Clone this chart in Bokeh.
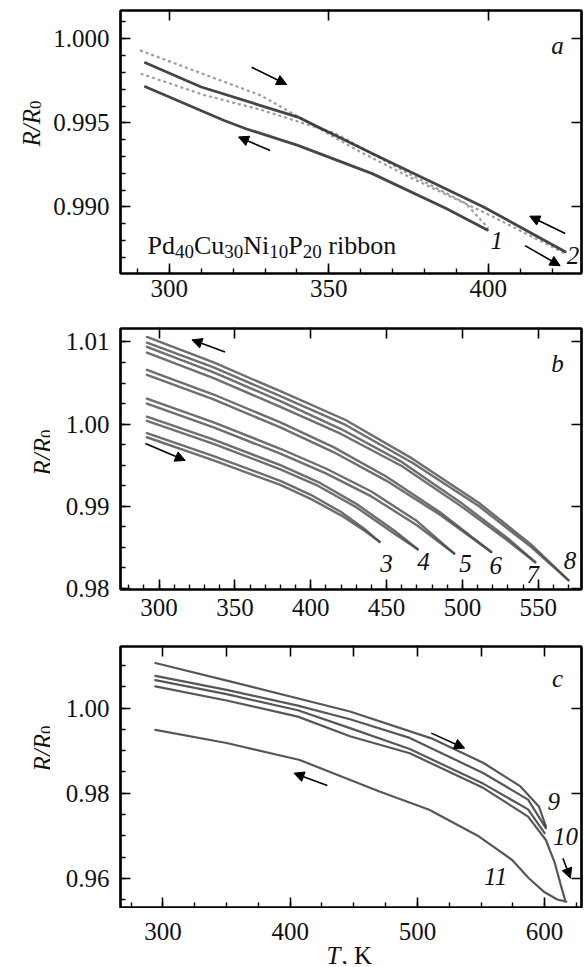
from bokeh.plotting import figure
from bokeh.layouts import column, row
from bokeh.models import (Range1d, LinearAxis, SingleIntervalTicker, FixedTicker, Label,
                          Arrow, NormalHead, NumeralTickFormatter, CustomJSTickFormatter)
from bokeh.embed import file_html
from bokeh.resources import INLINE

# ---------------- data ----------------
# panel a: Pd40Cu30Ni10P20 ribbon, runs 1 and 2
a1_heat_T = [291, 300, 311, 329, 352, 375, 393, 400]
a1_heat_R = [0.99792, 0.99735, 0.99665, 0.99576, 0.99437, 0.99198, 0.99020, 0.98872]
a1_cool_T = [292.5, 317, 324, 340.3, 363.6, 386.8, 399.7]
a1_cool_R = [0.99715, 0.99515, 0.99465, 0.99366, 0.99198, 0.98990, 0.98862]
a2_heat_T = [290.8, 310, 328.7, 358.9, 375.2, 400, 424.1]
a2_heat_R = [0.99931, 0.99795, 0.99663, 0.99337, 0.99178, 0.98955, 0.98723]
a2_cool_T = [292.5, 310, 340.3, 363.6, 398.5, 424.1]
a2_cool_R = [0.99857, 0.99713, 0.99534, 0.99317, 0.99000, 0.98733]

# panel b: runs 3..8
b8_cool_T = [292, 336, 380, 423, 467, 511, 545, 570]
b8_cool_R = [1.0106, 1.0075, 1.0040, 1.0005, 0.9958, 0.9904, 0.9854, 0.9810]
b8_heat_T = [292, 336, 380, 423, 467, 511, 545, 570]
b8_heat_R = [1.0099, 1.0069, 1.0034, 0.9999, 0.9953, 0.9900, 0.9851, 0.9810]
b7_cool_T = [292, 336, 380, 420, 460, 500, 530, 548]
b7_cool_R = [1.0094, 1.0063, 1.0028, 0.9994, 0.9954, 0.9903, 0.9861, 0.9832]
b7_heat_T = [292, 336, 380, 420, 460, 500, 530, 548]
b7_heat_R = [1.0087, 1.0056, 1.0021, 0.9988, 0.9949, 0.9899, 0.9858, 0.9832]
b6_cool_T = [292, 336, 380, 415, 450, 485, 519]
b6_cool_R = [1.0066, 1.0036, 1.0002, 0.9972, 0.9936, 0.9893, 0.98445]
b6_heat_T = [292, 336, 380, 415, 450, 485, 519]
b6_heat_R = [1.0060, 1.0030, 0.9996, 0.9966, 0.9931, 0.9890, 0.98445]
b5_cool_T = [292, 336, 380, 410, 440, 470, 494.6]
b5_cool_R = [1.0031, 1.0002, 0.9970, 0.9946, 0.9918, 0.9882, 0.98425]
b5_heat_T = [292, 336, 380, 410, 440, 470, 494.6]
b5_heat_R = [1.0025, 0.9996, 0.9964, 0.9940, 0.9912, 0.9877, 0.98425]
b4_cool_T = [292, 336, 380, 405, 430, 455, 470.5]
b4_cool_R = [1.0009, 0.9981, 0.9950, 0.99295, 0.9903, 0.98705, 0.98478]
b4_heat_T = [292, 336, 380, 405, 430, 455, 470.5]
b4_heat_R = [1.0004, 0.9976, 0.9945, 0.99248, 0.98988, 0.98670, 0.98478]
b3_cool_T = [292, 336, 380, 400, 420, 435, 445.4]
b3_cool_R = [0.9989, 0.9961, 0.9931, 0.9914, 0.9893, 0.9873, 0.98567]
b3_heat_T = [292, 336, 380, 400, 420, 435, 445.4]
b3_heat_R = [0.9984, 0.9956, 0.9926, 0.9909, 0.9889, 0.9871, 0.98567]

# panel c: runs 9..11
c9_heat_T = [294, 355, 447, 511, 552, 581, 595.5, 601]
c9_heat_R = [1.0106, 1.0061, 0.9992, 0.9929, 0.9871, 0.9816, 0.9769, 0.9722]
c9_cool_T = [294, 350, 406, 447, 494, 552, 587, 601]
c9_cool_R = [1.0076, 1.0043, 1.0006, 0.9974, 0.9930, 0.9847, 0.9785, 0.9718]
c10_heat_T = [294, 350, 406, 447, 494, 552, 587, 600]
c10_heat_R = [1.0066, 1.0033, 0.9995, 0.9953, 0.9904, 0.9822, 0.9762, 0.9706]
c10_cool_T = [294, 350, 406, 447, 494, 552, 587, 601, 608, 613, 616]
c10_cool_R = [1.0051, 1.0018, 0.9980, 0.9934, 0.9894, 0.9812, 0.9745, 0.9690, 0.9636, 0.9581, 0.9550]
c11_cool_T = [617, 610, 600, 587.6, 574.5, 548.5, 509.3, 470.2, 407.5, 350, 294]
c11_cool_R = [0.9545, 0.9550, 0.9567, 0.9600, 0.9643, 0.9698, 0.9761, 0.9804, 0.9878, 0.9918, 0.9949]

# tick labels of panel c's T axis
c_xticks = [300, 400, 500, 600]
# major ticks repeated on the top and right frame sides
a_top = [300, 350, 400]
a_right = [0.990, 0.995, 1.000]
b_top = [300, 350, 400, 450, 500, 550]
b_right = [0.98, 0.99, 1.00, 1.01]
c_top = [300, 350, 400, 450, 500, 550, 600]
c_right = [0.96, 0.98, 1.00]

# curve numbers (T, R/R0, text)
a_num = [(402.6, 0.98802, "1"), (426.5, 0.98713, "2")]
b_num = [(449.9, 0.98300, "3"), (474.4, 0.98330, "4"), (502.0, 0.98300, "5"),
         (522.0, 0.98280, "6"), (546.4, 0.98170, "7"), (571.0, 0.98335, "8")]
c_num = [(607.2, 0.97802, "9"), (616.5, 0.96979, "10"), (561.5, 0.96038, "11")]

# arrows (T_start, R_start, T_end, R_end)
a_arrows = [(325.8, 0.99831, 336.8, 0.99728), (331.6, 0.99336, 321.7, 0.99416),
            (424.1, 0.98842, 413.0, 0.98945), (411.5, 0.98770, 422.5, 0.98650)]
b_arrows = [(343.5, 1.00878, 321.7, 1.01025), (291.0, 0.99764, 317.3, 0.99558)]
c_arrows = [(510.9, 0.99412, 537.1, 0.99059), (429.2, 0.98179, 403.0, 0.98471),
            (614.4, 0.96471, 620.3, 0.96000)]

FONT = "Liberation Serif"
FW = 461
LEFT_W = 50          # strip that carries the R/R0 labels
MAIN_LEFT = 70       # axis panel of each plot
MAIN_RIGHT = 3
FRAME_LW = 2.2
COL_H = 908          # stacked plots: 313 + 316 + 279
STRIP_H = 56         # strip below panel c (tick labels and T, K)
BLANK = "return ''"


def side_axis(ticks):
    ax = LinearAxis(ticker=FixedTicker(ticks=ticks, minor_ticks=[]),
                    formatter=CustomJSTickFormatter(code=BLANK))
    ax.axis_line_color = "black"
    ax.axis_line_width = FRAME_LW
    ax.major_tick_in = 10
    ax.major_tick_out = 1
    ax.major_tick_line_width = 1.6
    ax.major_tick_line_color = "black"
    ax.minor_tick_line_color = None
    ax.major_label_text_font_size = "0px"
    ax.major_label_standoff = 0
    return ax


def make_fig(xr, yr, fh, btop, bbot, xmaj, xmin_n, ymaj, ymin_n, yfmt, top_ticks,
             right_ticks, xstand=6, xlabels=True):
    p = figure(output_backend="svg", toolbar_location=None,
               frame_width=FW, frame_height=fh,
               x_range=Range1d(*xr), y_range=Range1d(*yr),
               min_border_left=MAIN_LEFT, min_border_right=MAIN_RIGHT,
               min_border_top=btop, min_border_bottom=bbot,
               background_fill_color="white", border_fill_color="white")
    p.grid.visible = False
    p.outline_line_color = "black"
    p.outline_line_width = FRAME_LW
    p.outline_line_alpha = 1.0
    xa = p.xaxis[0]
    ya = p.yaxis[0]
    xa.ticker = SingleIntervalTicker(interval=xmaj, num_minor_ticks=xmin_n)
    ya.ticker = SingleIntervalTicker(interval=ymaj, num_minor_ticks=ymin_n)
    ya.formatter = NumeralTickFormatter(format=yfmt)
    for ax in (xa, ya):
        ax.axis_line_color = "black"
        ax.axis_line_width = FRAME_LW
        ax.major_tick_in = 10
        ax.major_tick_out = 0
        ax.minor_tick_in = 5
        ax.minor_tick_out = 0
        ax.major_tick_line_width = 1.6
        ax.minor_tick_line_width = 1.4
        ax.major_tick_line_color = "black"
        ax.minor_tick_line_color = "black"
        ax.major_label_text_font = FONT
        ax.major_label_text_font_size = "25px"
        ax.major_label_text_color = "#111111"
    xa.major_label_standoff = xstand
    ya.major_label_standoff = 11
    if not xlabels:
        xa.formatter = CustomJSTickFormatter(code=BLANK)
        xa.major_label_text_font_size = "0px"
        xa.major_label_standoff = 0
    p.add_layout(side_axis(top_ticks), "above")
    p.add_layout(side_axis(right_ticks), "right")
    return p


def blank_fig(w, h, xr=None, left=0, right=0):
    p = figure(output_backend="svg", toolbar_location=None,
               frame_width=w - left - right, frame_height=h,
               x_range=xr if xr is not None else Range1d(0, w), y_range=Range1d(0, h),
               min_border=0, min_border_left=left, min_border_right=right,
               x_axis_location=None, y_axis_location=None,
               background_fill_color="white", border_fill_color="white")
    p.grid.visible = False
    p.outline_line_color = None
    return p


def txt(p, x, y, s, size=25, style="normal", units="screen", align="left",
        baseline="alphabetic", angle=0, xu=None):
    p.add_layout(Label(x=x, y=y, x_units=xu or units, y_units=units, text=s,
                       text_font=FONT, text_font_size=f"{size}px",
                       text_font_style=style, text_align=align,
                       text_baseline=baseline, angle=angle, angle_units="deg",
                       text_color="#111111"))


def ylabel(p, x, yc):
    txt(p, x, yc - 23, "R/R", 25, "italic", units="data", angle=90)
    txt(p, x + 4, yc + 14.5, "0", 17, units="data", angle=90)


def curve(p, T, R, color="#3a3a3a", w=2.4, alpha=0.85, dash="solid"):
    cap = "butt" if dash != "solid" else "round"
    p.line(T, R, line_color=color, line_width=w, line_alpha=alpha, line_dash=dash,
           line_join="round", line_cap=cap)


def arrows(p, lst):
    for xs, ys, xe, ye in lst:
        p.add_layout(Arrow(end=NormalHead(size=10, fill_color="black", line_color="black",
                                          line_width=1),
                           x_start=xs, y_start=ys, x_end=xe, y_end=ye,
                           line_color="black", line_width=1.6))


def numbers(p, lst):
    for x, y, s in lst:
        txt(p, x, y, s, 25, "italic", units="data", align="center", baseline="middle")


# ---------------- panel a ----------------
pa = make_fig((284.7, 429.2), (0.98604, 1.00168), 263, 10, 40,
              50, 5, 0.005, 5, "0.000", a_top, a_right)
curve(pa, a2_heat_T, a2_heat_R, color="#8c8c8c", w=2.2, alpha=0.85, dash="3 3")
curve(pa, a1_heat_T, a1_heat_R, color="#8c8c8c", w=2.2, alpha=0.85, dash="3 3")
curve(pa, a2_cool_T, a2_cool_R, color="#262626", w=2.8, alpha=0.85)
curve(pa, a1_cool_T, a1_cool_R, color="#262626", w=2.8, alpha=0.85)
arrows(pa, a_arrows)
numbers(pa, a_num)
txt(pa, 437, 228.5, "a", 25, "italic", align="center")
# composition label with subscripts
pieces = [("Pd", 0), ("40", 1), ("Cu", 0), ("30", 1), ("Ni", 0), ("10", 1),
          ("P", 0), ("20", 1), ("ribbon", 0)]
em = {"P": 0.556, "d": 0.5, "C": 0.667, "u": 0.5, "N": 0.722, "i": 0.278,
      "r": 0.333, "b": 0.5, "o": 0.5, "n": 0.5}
xcur = 27.0
for s, sub in pieces:
    if s == "ribbon":
        xcur += 0.25 * 26
    if sub:
        txt(pa, xcur, 22, s, 19)
        xcur += len(s) * 0.5 * 19
    else:
        txt(pa, xcur, 28, s, 26)
        xcur += sum(em[c] for c in s) * 26

# ---------------- panel b ----------------
pb = make_fig((274.6, 578.5), (0.97988, 1.01163), 261, 15, 40,
              50, 5, 0.01, 4, "0.00", b_top, b_right, xstand=9)
for T, R in [(b8_cool_T, b8_cool_R), (b8_heat_T, b8_heat_R),
             (b7_cool_T, b7_cool_R), (b7_heat_T, b7_heat_R),
             (b6_cool_T, b6_cool_R), (b6_heat_T, b6_heat_R),
             (b5_cool_T, b5_cool_R), (b5_heat_T, b5_heat_R),
             (b4_cool_T, b4_cool_R), (b4_heat_T, b4_heat_R),
             (b3_cool_T, b3_cool_R), (b3_heat_T, b3_heat_R)]:
    curve(pb, T, R, color="#4a4a4a", w=2.4, alpha=0.8)
arrows(pb, b_arrows)
numbers(pb, b_num)
txt(pb, 437, 225.8, "b", 25, "italic", align="center")

# ---------------- panel c ----------------
pc = make_fig((266.6, 629.0), (0.95313, 1.01449), 261, 17, 1,
              100, 4, 0.02, 4, "0.00", c_top, c_right, xlabels=False)
for T, R in [(c9_heat_T, c9_heat_R), (c9_cool_T, c9_cool_R),
             (c10_heat_T, c10_heat_R), (c10_cool_T, c10_cool_R),
             (c11_cool_T, c11_cool_R)]:
    curve(pc, T, R, color="#3a3a3a", w=2.2, alpha=0.85)
arrows(pc, c_arrows)
numbers(pc, c_num)
txt(pc, 437, 228.7, "c", 25, "italic", align="center")

# ---------------- strips for the axis titles ----------------
left = blank_fig(LEFT_W, COL_H)
ylabel(left, 31, COL_H - 123)
ylabel(left, 42, COL_H - 452)
ylabel(left, 42, COL_H - 748)

# strip under panel c: shares panel c's T range, same frame columns
bottom = blank_fig(LEFT_W + MAIN_LEFT + FW + MAIN_RIGHT, STRIP_H, xr=pc.x_range,
                   left=LEFT_W + MAIN_LEFT, right=MAIN_RIGHT)
for t in c_xticks:
    txt(bottom, t, STRIP_H - 22.5, str(t), 25, units="screen", xu="data", align="center")
txt(bottom, 206, STRIP_H - 47, "T", 25, "italic")
txt(bottom, 221, STRIP_H - 47, ", K", 25)

layout = column(row(left, column(pa, pb, pc)), bottom)
open("out.html", "w").write(file_html(layout, INLINE))
